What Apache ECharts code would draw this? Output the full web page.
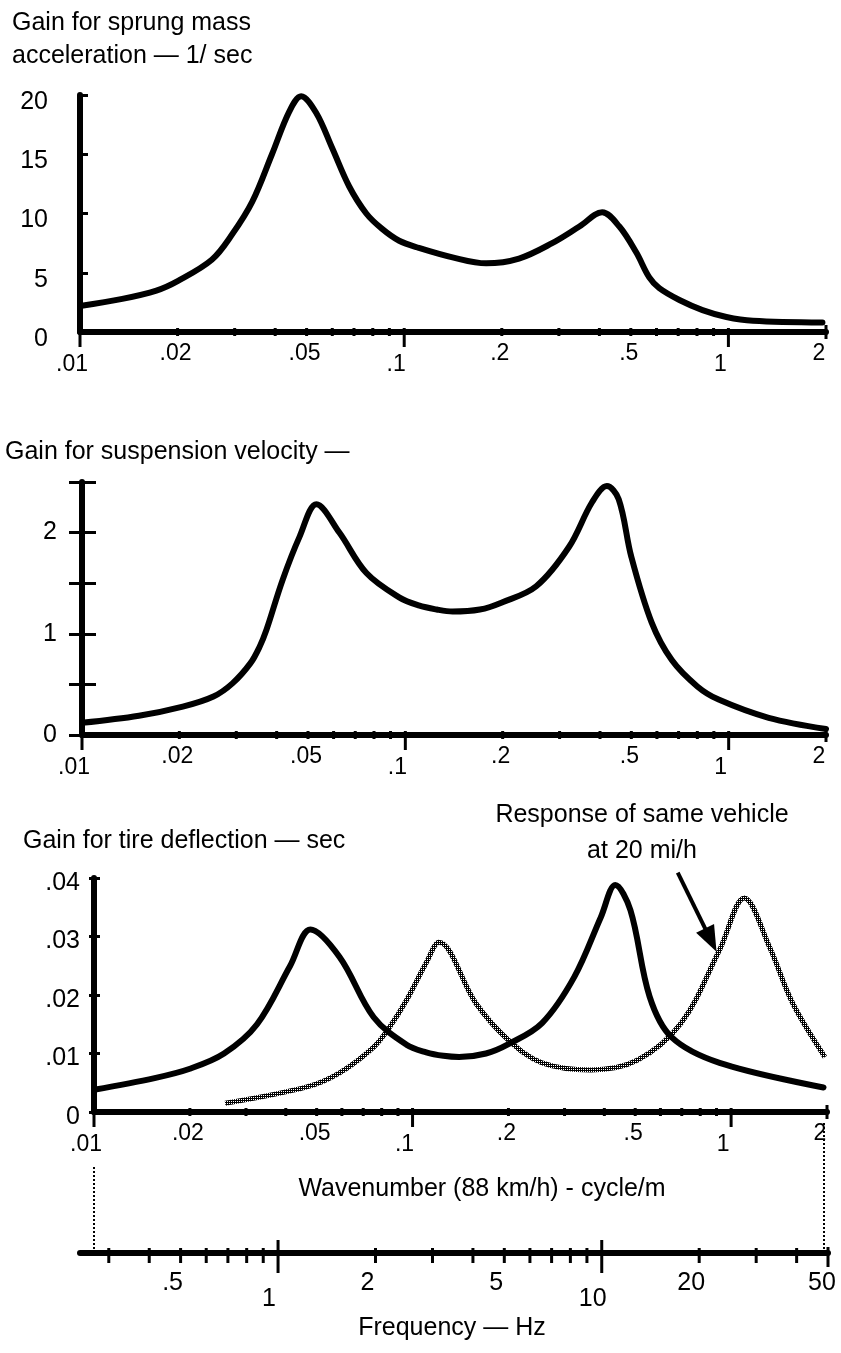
<!DOCTYPE html>
<html>
<head>
<meta charset="utf-8">
<script src="https://cdn.jsdelivr.net/npm/echarts@6/dist/echarts.min.js"></script>
<style>
  html, body { margin: 0; padding: 0; background: #fff; }
  #chart { width: 841px; height: 1353px; }
</style>
</head>
<body>
<div id="chart"></div>
<script>
// Quarter-car response gains plotted against road wavenumber (log scale),
// with a matching frequency scale for 88 km/h underneath.

// --- Sprung mass acceleration gain (1/sec) ---
const ACCEL_WAVENUMBER = [0.01, 0.0135, 0.0172, 0.02, 0.0255, 0.0294, 0.034, 0.0391, 0.0442, 0.0481,
  0.0535, 0.06, 0.0676, 0.0764, 0.0855, 0.0965, 0.111, 0.141, 0.179, 0.226, 0.286, 0.347, 0.408,
  0.461, 0.52, 0.57, 0.612, 0.706, 0.832, 0.986, 1.19, 1.95];
const ACCEL_GAIN = [2.2, 2.8, 3.5, 4.3, 6.1, 8.2, 11.0, 15.0, 18.6, 19.9,
  18.5, 15.5, 12.3, 10.0, 8.7, 7.7, 7.1, 6.3, 5.8, 6.2, 7.5, 8.9, 10.1,
  8.9, 6.7, 4.6, 3.7, 2.7, 1.85, 1.27, 0.95, 0.8];

// --- Suspension velocity gain ---
const SUSP_WAVENUMBER = [0.01, 0.015, 0.0205, 0.0255, 0.0292, 0.0332, 0.0354, 0.0372, 0.0417, 0.0471,
  0.0531, 0.0625, 0.0758, 0.0957, 0.11, 0.125, 0.14, 0.17, 0.199, 0.254, 0.321, 0.378, 0.42,
  0.457, 0.5, 0.578, 0.667, 0.8, 0.931, 1.33, 2];
const SUSP_GAIN = [0.12, 0.19, 0.28, 0.38, 0.51, 0.71, 0.87, 1.04, 1.53, 1.96,
  2.28, 2.0, 1.6, 1.36, 1.28, 1.24, 1.22, 1.24, 1.31, 1.47, 1.86, 2.3, 2.46,
  2.33, 1.76, 1.11, 0.74, 0.48, 0.35, 0.17, 0.06];

// --- Tire deflection gain (sec) at 88 km/h ---
const TIRE_WAVENUMBER = [0.01, 0.0155, 0.02, 0.0256, 0.0325, 0.0413, 0.0478, 0.059, 0.0755, 0.0957,
  0.1104, 0.125, 0.14, 0.17, 0.2, 0.255, 0.322, 0.39, 0.433, 0.483, 0.555, 0.65, 0.92, 1.95];
const TIRE_GAIN = [0.0038, 0.0058, 0.0074, 0.0100, 0.0150, 0.0250, 0.0312, 0.0265, 0.0162, 0.0115,
  0.0102, 0.0096, 0.0094, 0.0100, 0.0116, 0.0152, 0.0231, 0.0333, 0.0388, 0.0345, 0.0197, 0.0128,
  0.0084, 0.0042];

// --- Tire deflection gain of the same vehicle at 20 mi/h ---
const TIRE20_WAVENUMBER = [0.0258, 0.0466, 0.059, 0.0755, 0.0847, 0.0957, 0.1104, 0.121, 0.158, 0.2,
  0.255, 0.363, 0.509, 0.697, 0.92, 1.1, 1.32, 1.56, 1.97];
const TIRE20_GAIN = [0.0015, 0.0043, 0.0067, 0.0111, 0.0145, 0.0191, 0.0255, 0.029, 0.0186, 0.0123,
  0.0084, 0.0072, 0.0089, 0.0152, 0.0277, 0.0366, 0.0282, 0.0186, 0.0094];

// Annotation arrow, in (wavenumber, gain) units
const ARROW_FROM = [0.68, 0.0409];
const ARROW_TO = [0.9, 0.0274];

// Wavenumber axis ticks
const WAVE_MIN = 0.01;
const WAVE_MAX = 2;
const WAVE_MINOR = [0.02, 0.03, 0.04, 0.05, 0.06, 0.07, 0.08, 0.09, 0.2, 0.3, 0.4, 0.5, 0.6, 0.7, 0.8, 0.9];
const WAVE_DECADES = [0.01, 0.1, 1];
const WAVE_ENDS = [2];
const WAVE_LABEL_VALUES = [0.01, 0.02, 0.05, 0.1, 0.2, 0.5, 1, 2];
const WAVE_LABELS = ['.01', '.02', '.05', '.1', '.2', '.5', '1', '2'];

// Frequency axis ticks (Hz)
const SPEED_KMH = 88;
const FREQ_MAX = 50;
const FREQ_MINOR = [0.3, 0.4, 0.5, 0.6, 0.7, 0.8, 0.9, 2, 3, 4, 5, 6, 7, 8, 9, 20, 30, 40];
const FREQ_DECADES = [1, 10];
const FREQ_ENDS = [50];
const FREQ_LABEL_VALUES = [0.5, 1, 2, 5, 10, 20, 50];
const FREQ_LABELS = ['.5', '1', '2', '5', '10', '20', '50'];

// Gain axis tick labels
const ACCEL_Y_VALUES = [0, 5, 10, 15, 20];
const ACCEL_Y_LABELS = ['0', '5', '10', '15', '20'];
const SUSP_Y_VALUES = [0, 1, 2];
const SUSP_Y_LABELS = ['0', '1', '2'];
const TIRE_Y_VALUES = [0, 0.01, 0.02, 0.03, 0.04];
const TIRE_Y_LABELS = ['0', '.01', '.02', '.03', '.04'];

const FONT = '"Liberation Sans", Arial, Helvetica, sans-serif';
const INK = '#000';

function zip(xs, ys) { return xs.map((x, i) => [x, ys[i]]); }

function tickItems(minor, decades, ends, labelValues, labelTexts) {
  const items = [];
  minor.forEach(v => items.push({ value: v, kind: 'minor', label: null }));
  decades.forEach(v => items.push({ value: v, kind: 'decade', label: null }));
  ends.forEach(v => items.push({ value: v, kind: 'end', label: null }));
  labelValues.forEach((v, i) => {
    const it = items.find(t => Math.abs(t.value - v) < 1e-9);
    if (it) it.label = labelTexts[i];
  });
  return items;
}

const WAVE_GEOM = {
  minor: { up: 4, down: 4 }, decade: { up: 4, down: 15 }, end: { up: 7, down: 7 },
  high: { dx: -2, dy: 22 }, low: { dx: -8, dy: 33 }, endLabel: { dx: -7, dy: 22 },
  font: '23px ' + FONT
};
const FREQ_GEOM = {
  minor: { up: 5, down: 10 }, decade: { up: 13, down: 20 }, end: { up: 6, down: 14 },
  high: { dx: -8, dy: 30 }, low: { dx: -9, dy: 46 }, endLabel: { dx: -6, dy: 30 },
  font: '25px ' + FONT
};

function textStyle(str, font, align) {
  return {
    text: str, fill: INK, font,
    align, verticalAlign: 'middle',
    textAlign: align, textVerticalAlign: 'middle'
  };
}

// Wavenumber / frequency ticks and labels, placed through the axis scale
function tickSeries(xAxisIndex, yAxisIndex, items, geom) {
  return {
    type: 'custom', xAxisIndex, yAxisIndex,
    silent: true, clip: false, z: 5,
    data: items.map(it => [it.value, 0]),
    renderItem(params, api) {
      const it = items[params.dataIndex];
      const p = api.coord([api.value(0), api.value(1)]);
      const g = geom[it.kind];
      const children = [{
        type: 'line',
        shape: { x1: p[0], y1: p[1] - g.up, x2: p[0], y2: p[1] + g.down },
        style: { stroke: INK, lineWidth: 3 }
      }];
      if (it.label != null) {
        const off = it.kind === 'decade' ? geom.low : (it.kind === 'end' ? geom.endLabel : geom.high);
        children.push({
          type: 'text', x: p[0] + off.dx, y: p[1] + off.dy,
          style: textStyle(it.label, geom.font, 'center')
        });
      }
      return { type: 'group', children };
    }
  };
}

// Gain axis labels, right-aligned to the left of the gain axis
function gainLabelSeries(xAxisIndex, yAxisIndex, values, labels, dx, dy) {
  return {
    type: 'custom', xAxisIndex, yAxisIndex,
    silent: true, clip: false, z: 5,
    data: values.map(v => [WAVE_MIN, v]),
    renderItem(params, api) {
      const p = api.coord([api.value(0), api.value(1)]);
      return {
        type: 'text', x: p[0] + dx, y: p[1] + dy,
        style: textStyle(labels[params.dataIndex], '25px ' + FONT, 'right')
      };
    }
  };
}

// Halftone texture for the 20 mi/h curve
function halftone() {
  const c = document.createElement('canvas');
  c.width = 4; c.height = 4;
  const ctx = c.getContext('2d');
  ctx.fillStyle = '#000000';
  ctx.fillRect(0, 0, 4, 4);
  ctx.fillStyle = '#ffffff';
  ctx.fillRect(1, 1, 1, 1);
  ctx.fillRect(3, 3, 1, 1);
  ctx.fillRect(1, 3, 1, 1);
  ctx.fillRect(3, 1, 1, 1);
  return c;
}

function waveXAxis(gridIndex) {
  return {
    gridIndex, type: 'log', logBase: 10, min: WAVE_MIN, max: WAVE_MAX,
    axisLine: { show: true, onZero: false, lineStyle: { color: INK, width: 6 } },
    axisTick: { show: false }, axisLabel: { show: false },
    splitLine: { show: false }, minorTick: { show: false }
  };
}

function gainYAxis(gridIndex, max, interval, tickIn, tickOut, showLine) {
  return {
    gridIndex, type: 'value', position: 'left', min: 0, max, interval,
    axisLine: { show: showLine, lineStyle: { color: INK, width: 6 } },
    axisTick: {
      show: true, inside: tickIn > 0, length: tickIn > 0 ? tickIn : tickOut,
      lineStyle: { color: INK, width: 3 }
    },
    axisLabel: { show: false },
    splitLine: { show: false }
  };
}

function curve(xAxisIndex, yAxisIndex, xs, ys) {
  return {
    type: 'line', xAxisIndex, yAxisIndex, data: zip(xs, ys),
    smooth: 0.35, showSymbol: false, symbol: 'none', silent: true, z: 3,
    lineStyle: { color: INK, width: 6, cap: 'round', join: 'round' }
  };
}

const freqMin = WAVE_MIN * SPEED_KMH / 3.6;

const waveTicks = tickItems(WAVE_MINOR, WAVE_DECADES, WAVE_ENDS, WAVE_LABEL_VALUES, WAVE_LABELS);
const freqTicks = tickItems(FREQ_MINOR, FREQ_DECADES, FREQ_ENDS, FREQ_LABEL_VALUES, FREQ_LABELS);

const titleStyle = { fontFamily: FONT, fontSize: 25, fontWeight: 'normal', color: INK };

const gray = curve(2, 3, TIRE20_WAVENUMBER, TIRE20_GAIN);
gray.z = 2;
gray.lineStyle = { color: { image: halftone(), repeat: 'repeat' }, width: 5 };

const option = {
  animation: false,
  backgroundColor: '#fff',
  title: [
    { text: 'Gain for sprung mass\nacceleration — 1/ sec', left: 12, top: 7, padding: 0,
      textStyle: Object.assign({ lineHeight: 33 }, titleStyle) },
    { text: 'Gain for suspension velocity —', left: 5, top: 437, padding: 0,
      textStyle: Object.assign({ lineHeight: 30 }, titleStyle) },
    { text: 'Gain for tire deflection — sec', left: 23, top: 826, padding: 0,
      textStyle: Object.assign({ lineHeight: 30 }, titleStyle) }
  ],
  grid: [
    { left: 80, right: 15, top: 95, bottom: 1021 },
    { left: 82, right: 15, top: 482, bottom: 618 },
    { left: 94, right: 14, top: 878, bottom: 241 },
    { left: 80, right: 13, top: 1213, bottom: 100 }
  ],
  xAxis: [
    waveXAxis(0), waveXAxis(1), waveXAxis(2),
    {
      gridIndex: 3, type: 'log', logBase: 10, min: freqMin, max: FREQ_MAX,
      axisLine: { show: true, onZero: false, lineStyle: { color: INK, width: 6 } },
      axisTick: { show: false }, axisLabel: { show: false },
      splitLine: { show: false }, minorTick: { show: false }
    }
  ],
  yAxis: [
    gainYAxis(0, 20, 5, 8, 0, true),
    gainYAxis(1, 2.5, 0.5, 14, 0, true),
    gainYAxis(1, 2.5, 0.5, 0, 13, false),
    gainYAxis(2, 0.04, 0.01, 6, 0, true),
    gainYAxis(2, 0.04, 0.01, 0, 5, false),
    { gridIndex: 3, type: 'value', min: 0, max: 1, show: false }
  ],
  series: [
    curve(0, 0, ACCEL_WAVENUMBER, ACCEL_GAIN),
    curve(1, 1, SUSP_WAVENUMBER, SUSP_GAIN),
    gray,
    curve(2, 3, TIRE_WAVENUMBER, TIRE_GAIN),
    tickSeries(0, 0, waveTicks, WAVE_GEOM),
    tickSeries(1, 1, waveTicks, WAVE_GEOM),
    tickSeries(2, 3, waveTicks, WAVE_GEOM),
    tickSeries(3, 5, freqTicks, FREQ_GEOM),
    gainLabelSeries(0, 0, ACCEL_Y_VALUES, ACCEL_Y_LABELS, -32, 7),
    gainLabelSeries(1, 1, SUSP_Y_VALUES, SUSP_Y_LABELS, -25, 0),
    gainLabelSeries(2, 3, TIRE_Y_VALUES, TIRE_Y_LABELS, -14, 5)
  ]
};

const chart = echarts.init(document.getElementById('chart'), null, { renderer: 'canvas' });
chart.setOption(option);

// Free text, the annotation arrow, and the dotted guides tying the
// wavenumber ends to the frequency scale
const toPx3 = v => chart.convertToPixel({ xAxisIndex: 2, yAxisIndex: 3 }, v);
const waveLeft = toPx3([WAVE_MIN, 0]);
const waveRight = toPx3([WAVE_MAX, 0]);
const freqAxisY = chart.convertToPixel({ xAxisIndex: 3, yAxisIndex: 5 }, [1, 0])[1];

function text(x, y, str) {
  return { type: 'text', x, y, silent: true, style: textStyle(str, '25px ' + FONT, 'center') };
}
function dotted(x, y1, y2) {
  return {
    type: 'line', silent: true,
    shape: { x1: x, y1, x2: x, y2 },
    style: { stroke: INK, lineWidth: 2, lineDash: [2, 2] }
  };
}
function arrow(from, to) {
  const a = toPx3(from), b = toPx3(to);
  const dx = b[0] - a[0], dy = b[1] - a[1];
  const len = Math.hypot(dx, dy), ux = dx / len, uy = dy / len;
  const headLen = 26, headHalf = 10;
  const base = [b[0] - ux * headLen, b[1] - uy * headLen];
  return [
    { type: 'line', silent: true, z: 10,
      shape: { x1: a[0], y1: a[1], x2: base[0] + ux * 2, y2: base[1] + uy * 2 },
      style: { stroke: INK, lineWidth: 4 } },
    { type: 'polygon', silent: true, z: 10,
      shape: { points: [b, [base[0] - uy * headHalf, base[1] + ux * headHalf], [base[0] + uy * headHalf, base[1] - ux * headHalf]] },
      style: { fill: INK } }
  ];
}

chart.setOption({
  graphic: [
    text(642, 815, 'Response of same vehicle'),
    text(642, 851, 'at 20 mi/h'),
    text(482, 1189, 'Wavenumber (88 km/h) - cycle/m'),
    text(452, 1328, 'Frequency — Hz'),
    dotted(waveLeft[0], waveLeft[1] + 55, freqAxisY),
    dotted(waveRight[0] - 3, waveRight[1] + 11, freqAxisY)
  ].concat(arrow(ARROW_FROM, ARROW_TO))
});
</script>
</body>
</html>
